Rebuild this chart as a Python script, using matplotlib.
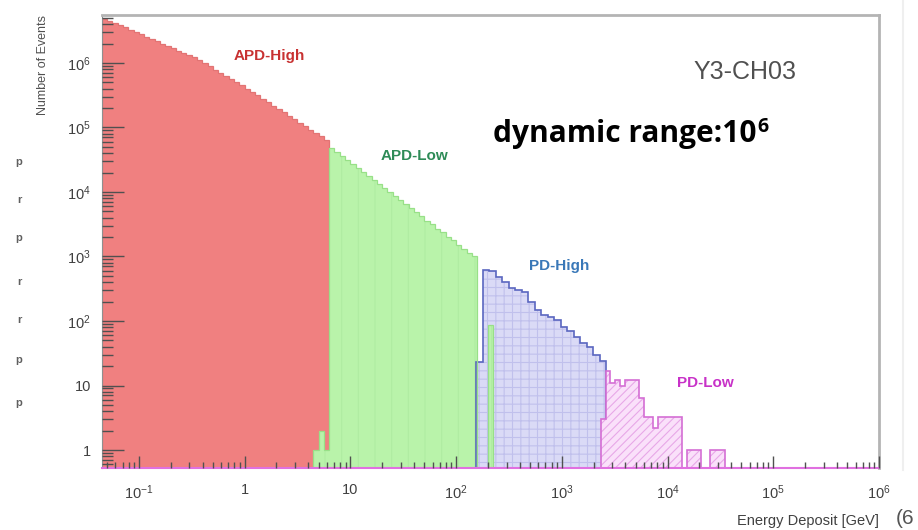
import numpy as np
import matplotlib
matplotlib.use("Agg")
from matplotlib import pyplot as plt
from matplotlib.lines import Line2D
from matplotlib.ticker import FixedLocator, LogLocator, NullFormatter

# event counts per readout range, bins equally spaced in log10(E / GeV)
apd_high_start, apd_high_width = -1.35, 0.05
apd_high_counts = [
    4.83e6, 4.48e6, 4.16e6, 3.86e6, 3.56e6, 3.27e6, 3.01e6, 2.77e6, 2.56e6,
    2.35e6, 2.17e6, 2.0e6, 1.84e6, 1.69e6, 1.56e6, 1.44e6, 1.32e6, 1.22e6,
    1.12e6, 1.0e6, 8.9e5, 7.9e5, 7.1e5, 6.3e5, 5.6e5, 5.0e5, 4.5e5, 4.0e5,
    3.55e5, 3.14e5, 2.78e5, 2.46e5, 2.18e5, 1.93e5, 1.71e5, 1.51e5, 1.34e5,
    1.18e5, 1.05e5, 9.3e4, 8.2e4, 7.3e4, 6.4e4,
]

apd_low_start, apd_low_width = 0.65, 0.05
apd_low_counts = [
    1, 2, 1,
    4.85e4, 4.2e4, 3.64e4, 3.15e4, 2.73e4, 2.36e4, 2.05e4, 1.77e4, 1.54e4,
    1.33e4, 1.15e4, 1.0e4, 8.6e3, 7.5e3, 6.5e3, 5.6e3, 4.9e3, 4.2e3, 3.6e3,
    3.2e3, 2.7e3, 2.4e3, 2.0e3, 1.8e3, 1.5e3, 1.3e3, 1.15e3, 1.0e3,
    0, 0, 87,
]

pd_high_start, pd_high_width = 2.19, 0.0615
pd_high_counts = [
    23, 620, 590, 480, 400, 330, 300, 280, 200, 150,
    126, 115, 105, 80, 69, 56, 46, 40, 30, 24,
]

pd_low_start, pd_low_width = 3.37, 0.045
pd_low_counts = [
    3, 17, 11, 12, 10, 12, 12, 12, 6.4, 3.2, 3.2, 2.2, 3.2, 3.2,
    3.2, 3.2, 3.2, 0, 1, 1, 1, 0, 0, 1, 1, 1, 0,
]

y_ticks = [1, 10, 1e2, 1e3, 1e4, 1e5, 1e6]
y_tick_labels = ["1", "10", "$10^{2}$", "$10^{3}$", "$10^{4}$", "$10^{5}$", "$10^{6}$"]
x_ticks = [1e-1, 1, 10, 1e2, 1e3, 1e4, 1e5, 1e6]
x_tick_labels = ["$10^{-1}$", "1", "10", "$10^{2}$", "$10^{3}$", "$10^{4}$", "$10^{5}$", "$10^{6}$"]

plt.rcParams["font.family"] = "Liberation Sans"
plt.rcParams["mathtext.fontset"] = "custom"
plt.rcParams["mathtext.rm"] = "Liberation Sans"
plt.rcParams["mathtext.it"] = "Liberation Sans:italic"
plt.rcParams["mathtext.bf"] = "Liberation Sans:bold"
plt.rcParams["hatch.linewidth"] = 0.8


def log_edges(start, width, n):
    return 10 ** (start + width * np.arange(n + 1))


def draw_hist(ax, start, width, counts, face, edge, hatch=None, hatch_color=None,
              alpha=1.0, lw=1.2, z=1):
    counts = np.asarray(counts, dtype=float)
    edges = log_edges(start, width, len(counts))
    shown = np.clip(counts, 1e-2, None)
    ax.stairs(shown, edges, baseline=1e-2, fill=True, facecolor=face,
              edgecolor=hatch_color or face, hatch=hatch, linewidth=0, alpha=alpha,
              zorder=z)
    ax.stairs(shown, edges, baseline=1e-2, color=edge, linewidth=lw, zorder=z + 0.5)


fig = plt.figure(figsize=(9.18, 5.30), dpi=100)
ax = fig.add_axes([102 / 918, 1 - 468 / 530, 777 / 918, 453 / 530])
ax.set_xscale("log")
ax.set_yscale("log")

draw_hist(ax, apd_high_start, apd_high_width, apd_high_counts, "#f08080", "#e27474",
          lw=0.9, z=1)
draw_hist(ax, pd_high_start, pd_high_width, pd_high_counts, "#c4c4f2", "#5a66c0",
          hatch="++", hatch_color="#b0b0e6", alpha=0.62, z=2)
# APD-Low sits above the PD-High fill so its stray bin stays visible
draw_hist(ax, apd_low_start, apd_low_width, apd_low_counts, "#b9f3aa", "#98e088",
          hatch="|", hatch_color="#b0eca2", lw=0.9, z=2.2)
draw_hist(ax, pd_low_start, pd_low_width, pd_low_counts, "#fae0fa", "#d46ed4",
          hatch="////", hatch_color="#e8a8e8", z=3)

ax.set_xlim(10 ** -1.349, 1e6)
ax.set_ylim(10 ** -0.279, 10 ** 6.744)

ax.xaxis.set_major_locator(FixedLocator(x_ticks))
ax.set_xticklabels(x_tick_labels)
ax.xaxis.set_minor_locator(LogLocator(base=10, subs=np.arange(2, 10), numticks=20))
ax.xaxis.set_minor_formatter(NullFormatter())
ax.yaxis.set_major_locator(FixedLocator(y_ticks))
ax.set_yticklabels(y_tick_labels)
ax.yaxis.set_minor_locator(LogLocator(base=10, subs=np.arange(2, 10), numticks=20))
ax.yaxis.set_minor_formatter(NullFormatter())

ax.tick_params(axis="x", which="major", direction="in", length=9, width=1,
               color="#505050", labelsize=10.5, labelcolor="#404040", pad=11)
ax.tick_params(axis="x", which="minor", direction="in", length=4, width=1, color="#505050")
ax.tick_params(axis="y", which="major", direction="in", length=16, width=1,
               color="#505050", labelsize=10.5, labelcolor="#404040", pad=8)
ax.tick_params(axis="y", which="minor", direction="in", length=8, width=1, color="#505050")
# ticks and frame drawn on top of the histograms
ax.xaxis.set_zorder(5)
ax.yaxis.set_zorder(5)

for side in ("top", "right"):
    ax.spines[side].set_color("#b4b4b4")
    ax.spines[side].set_linewidth(2)
ax.spines["left"].set_color("#909090")
ax.spines["bottom"].set_color("#e070e0")
ax.spines["bottom"].set_linewidth(1.5)
for sp in ax.spines.values():
    sp.set_zorder(5)

ax.set_xlabel("Energy Deposit [GeV]", fontsize=10.5, color="#404040", loc="right", labelpad=9)
ax.set_ylabel("Number of Events", fontsize=9, color="#505050", loc="top", labelpad=13)

ax.text(1.7, 1.3e6, "APD-High", color="#c83232", fontsize=11, fontweight="bold",
        ha="center", va="center")
ax.text(40, 3.6e4, "APD-Low", color="#2e8b57", fontsize=11, fontweight="bold",
        ha="center", va="center")
ax.text(940, 700, "PD-High", color="#3a78b8", fontsize=11, fontweight="bold",
        ha="center", va="center")
ax.text(2.3e4, 11, "PD-Low", color="#c832c8", fontsize=11, fontweight="bold",
        ha="center", va="center")
ax.text(5.4e4, 7.2e5, "Y3-CH03", color="#505050", fontsize=18, ha="center", va="center")

dyn = ax.text(224, 6.0e4, "dynamic range:10", color="black", fontsize=21.5,
              family="Open Sans", fontweight="bold", ha="left", va="baseline")
fig.canvas.draw()
bb = dyn.get_window_extent()
fig.text(bb.x1 / fig.bbox.width + 0.001, (bb.y1 - 8) / fig.bbox.height, "6",
         color="black", fontsize=14, family="Open Sans", fontweight="bold", va="center")

# fragments of the neighbouring panel at the edges
for y in (162, 200, 238, 282, 320, 360, 403):
    fig.text(19 / 918, 1 - y / 530, "r" if y in (200, 282, 320) else "p",
             fontsize=8, fontweight="bold", color="#606060", ha="center", va="center")
fig.text(896 / 918, 1 - 518 / 530, "(6", fontsize=15, color="#555555", va="center")
fig.add_artist(Line2D([903 / 918, 903 / 918], [1 - 470 / 530, 1.0],
                      transform=fig.transFigure, color="#efefef", linewidth=1.5))

fig.savefig("out.png", dpi=100)
